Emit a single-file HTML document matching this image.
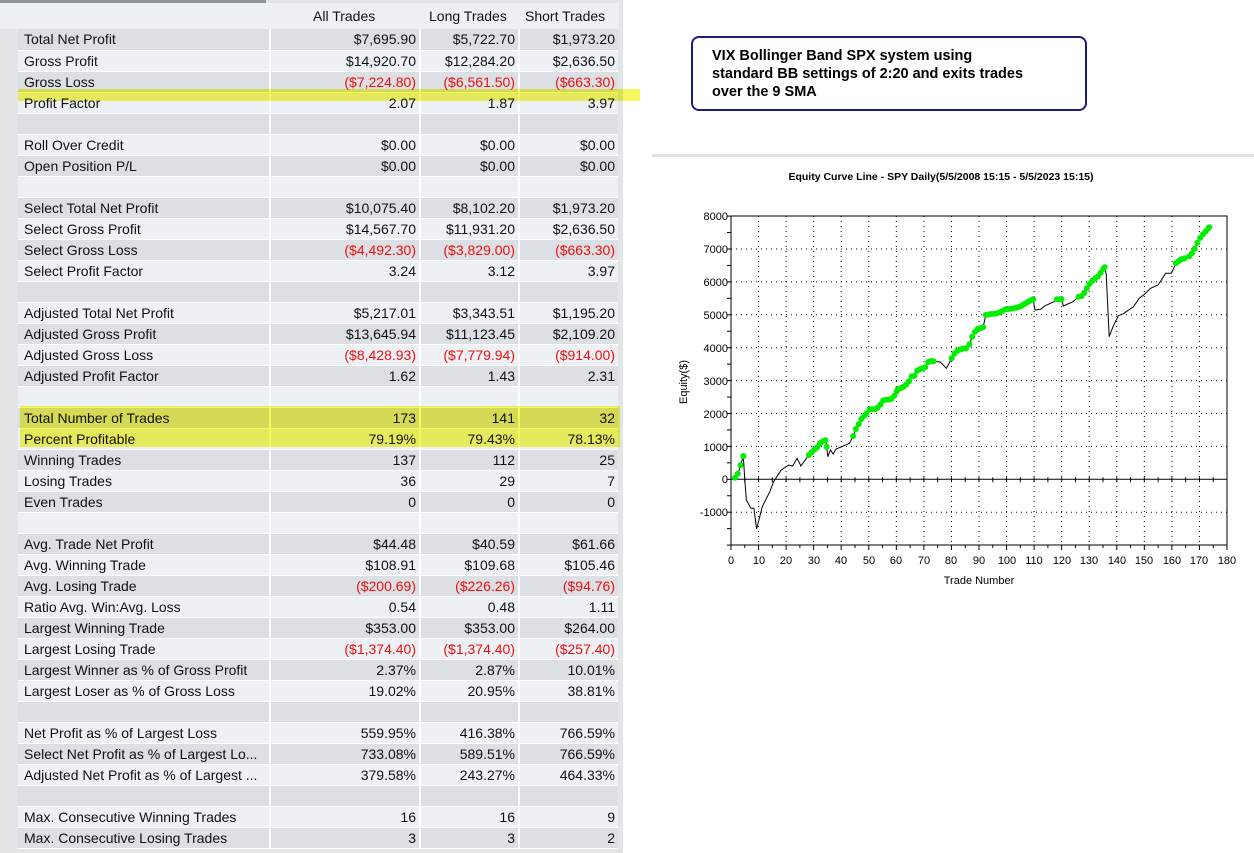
<!DOCTYPE html>
<html><head><meta charset="utf-8"><style>
body{margin:0;width:1254px;height:853px;background:#fff;position:relative;overflow:hidden;font-family:"Liberation Sans",Arial,sans-serif;}
#tbl{position:absolute;left:0;top:0;width:623px;height:853px;background:#e3e6e9;}
#topbar{position:absolute;left:0;top:0;width:266px;height:3px;background:#8c939b;}
#hdr{position:absolute;left:0;top:3px;width:619px;height:26px;background:#edf1f5;}
#hdr span{position:absolute;top:5px;font-size:14px;color:#111;}
table{position:absolute;left:18px;top:29px;border-collapse:collapse;font-size:14px;color:#111;}
td{height:21px;padding:0;box-sizing:border-box;border-bottom:1px solid #fff;line-height:20px;white-space:nowrap;overflow:hidden;}
td.l{width:252px;padding-left:6px;border-right:2px solid #fff;}
td.v{text-align:right;padding-right:3px;border-right:2px solid #fff;}
td.a{width:150px}td.b{width:99px}td.c{width:99px;border-right:none}
tr:nth-child(even) td{background:#edf1f5}
tr:nth-child(odd) td{background:#dcdfe3}
.r{color:#ee1010}
.hl{position:absolute;background:#f6f860;mix-blend-mode:multiply;}
#box{position:absolute;left:691px;top:36px;width:396px;height:75px;border:2px solid #1c1c80;border-radius:8px;box-sizing:border-box;}
#box div{position:absolute;left:19px;top:9px;font-weight:bold;font-size:14.5px;line-height:18px;color:#000;}
#sep{position:absolute;left:652px;top:154px;width:602px;height:3px;background:#e2e2e2;}
</style></head><body>
<div id="tbl"></div>
<div id="topbar"></div>
<div id="hdr"><span style="left:313px">All Trades</span><span style="left:429px">Long Trades</span><span style="left:525px">Short Trades</span></div>
<table>
<tr><td class="l">Total Net Profit</td><td class="v a">$7,695.90</td><td class="v b">$5,722.70</td><td class="v c">$1,973.20</td></tr>
<tr><td class="l">Gross Profit</td><td class="v a">$14,920.70</td><td class="v b">$12,284.20</td><td class="v c">$2,636.50</td></tr>
<tr><td class="l">Gross Loss</td><td class="v a r">($7,224.80)</td><td class="v b r">($6,561.50)</td><td class="v c r">($663.30)</td></tr>
<tr><td class="l">Profit Factor</td><td class="v a">2.07</td><td class="v b">1.87</td><td class="v c">3.97</td></tr>
<tr><td class="l"></td><td class="v a"></td><td class="v b"></td><td class="v c"></td></tr>
<tr><td class="l">Roll Over Credit</td><td class="v a">$0.00</td><td class="v b">$0.00</td><td class="v c">$0.00</td></tr>
<tr><td class="l">Open Position P/L</td><td class="v a">$0.00</td><td class="v b">$0.00</td><td class="v c">$0.00</td></tr>
<tr><td class="l"></td><td class="v a"></td><td class="v b"></td><td class="v c"></td></tr>
<tr><td class="l">Select Total Net Profit</td><td class="v a">$10,075.40</td><td class="v b">$8,102.20</td><td class="v c">$1,973.20</td></tr>
<tr><td class="l">Select Gross Profit</td><td class="v a">$14,567.70</td><td class="v b">$11,931.20</td><td class="v c">$2,636.50</td></tr>
<tr><td class="l">Select Gross Loss</td><td class="v a r">($4,492.30)</td><td class="v b r">($3,829.00)</td><td class="v c r">($663.30)</td></tr>
<tr><td class="l">Select Profit Factor</td><td class="v a">3.24</td><td class="v b">3.12</td><td class="v c">3.97</td></tr>
<tr><td class="l"></td><td class="v a"></td><td class="v b"></td><td class="v c"></td></tr>
<tr><td class="l">Adjusted Total Net Profit</td><td class="v a">$5,217.01</td><td class="v b">$3,343.51</td><td class="v c">$1,195.20</td></tr>
<tr><td class="l">Adjusted Gross Profit</td><td class="v a">$13,645.94</td><td class="v b">$11,123.45</td><td class="v c">$2,109.20</td></tr>
<tr><td class="l">Adjusted Gross Loss</td><td class="v a r">($8,428.93)</td><td class="v b r">($7,779.94)</td><td class="v c r">($914.00)</td></tr>
<tr><td class="l">Adjusted Profit Factor</td><td class="v a">1.62</td><td class="v b">1.43</td><td class="v c">2.31</td></tr>
<tr><td class="l"></td><td class="v a"></td><td class="v b"></td><td class="v c"></td></tr>
<tr><td class="l">Total Number of Trades</td><td class="v a">173</td><td class="v b">141</td><td class="v c">32</td></tr>
<tr><td class="l">Percent Profitable</td><td class="v a">79.19%</td><td class="v b">79.43%</td><td class="v c">78.13%</td></tr>
<tr><td class="l">Winning Trades</td><td class="v a">137</td><td class="v b">112</td><td class="v c">25</td></tr>
<tr><td class="l">Losing Trades</td><td class="v a">36</td><td class="v b">29</td><td class="v c">7</td></tr>
<tr><td class="l">Even Trades</td><td class="v a">0</td><td class="v b">0</td><td class="v c">0</td></tr>
<tr><td class="l"></td><td class="v a"></td><td class="v b"></td><td class="v c"></td></tr>
<tr><td class="l">Avg. Trade Net Profit</td><td class="v a">$44.48</td><td class="v b">$40.59</td><td class="v c">$61.66</td></tr>
<tr><td class="l">Avg. Winning Trade</td><td class="v a">$108.91</td><td class="v b">$109.68</td><td class="v c">$105.46</td></tr>
<tr><td class="l">Avg. Losing Trade</td><td class="v a r">($200.69)</td><td class="v b r">($226.26)</td><td class="v c r">($94.76)</td></tr>
<tr><td class="l">Ratio Avg. Win:Avg. Loss</td><td class="v a">0.54</td><td class="v b">0.48</td><td class="v c">1.11</td></tr>
<tr><td class="l">Largest Winning Trade</td><td class="v a">$353.00</td><td class="v b">$353.00</td><td class="v c">$264.00</td></tr>
<tr><td class="l">Largest Losing Trade</td><td class="v a r">($1,374.40)</td><td class="v b r">($1,374.40)</td><td class="v c r">($257.40)</td></tr>
<tr><td class="l">Largest Winner as % of Gross Profit</td><td class="v a">2.37%</td><td class="v b">2.87%</td><td class="v c">10.01%</td></tr>
<tr><td class="l">Largest Loser as % of Gross Loss</td><td class="v a">19.02%</td><td class="v b">20.95%</td><td class="v c">38.81%</td></tr>
<tr><td class="l"></td><td class="v a"></td><td class="v b"></td><td class="v c"></td></tr>
<tr><td class="l">Net Profit as % of Largest Loss</td><td class="v a">559.95%</td><td class="v b">416.38%</td><td class="v c">766.59%</td></tr>
<tr><td class="l">Select Net Profit as % of Largest Lo...</td><td class="v a">733.08%</td><td class="v b">589.51%</td><td class="v c">766.59%</td></tr>
<tr><td class="l">Adjusted Net Profit as % of Largest ...</td><td class="v a">379.58%</td><td class="v b">243.27%</td><td class="v c">464.33%</td></tr>
<tr><td class="l"></td><td class="v a"></td><td class="v b"></td><td class="v c"></td></tr>
<tr><td class="l">Max. Consecutive Winning Trades</td><td class="v a">16</td><td class="v b">16</td><td class="v c">9</td></tr>
<tr><td class="l">Max. Consecutive Losing Trades</td><td class="v a">3</td><td class="v b">3</td><td class="v c">2</td></tr>
</table>
<div class="hl" style="left:18px;top:89px;width:622px;height:12px"></div>
<div class="hl" style="left:20px;top:406px;width:600px;height:41px"></div>

<div id="box"><div>VIX Bollinger Band SPX system using<br>standard BB settings of 2:20 and exits trades<br>over the 9 SMA</div></div>
<div id="sep"></div>

<svg id="ch" width="1254" height="853" style="position:absolute;left:0;top:0" font-family="Liberation Sans, Arial, sans-serif">
<text x="941" y="180" font-size="10.5" font-weight="bold" text-anchor="middle">Equity Curve Line - SPY Daily(5/5/2008 15:15 - 5/5/2023 15:15)</text>
<g id="grid"></g>
<rect x="731" y="216" width="496" height="329" fill="none" stroke="#000" stroke-width="1"/>
<g font-size="11" text-anchor="end">
<text x="728" y="220">8000</text><text x="728" y="253">7000</text><text x="728" y="286">6000</text><text x="728" y="319">5000</text><text x="728" y="352">4000</text><text x="728" y="385">3000</text><text x="728" y="418">2000</text><text x="728" y="451">1000</text><text x="728" y="483">0</text><text x="728" y="516">-1000</text>
</g>
<g font-size="11" text-anchor="middle">
<text x="731" y="564">0</text><text x="759" y="564">10</text><text x="786" y="564">20</text><text x="814" y="564">30</text><text x="841" y="564">40</text><text x="869" y="564">50</text><text x="896" y="564">60</text><text x="924" y="564">70</text><text x="951" y="564">80</text><text x="979" y="564">90</text><text x="1007" y="564">100</text><text x="1034" y="564">110</text><text x="1062" y="564">120</text><text x="1089" y="564">130</text><text x="1117" y="564">140</text><text x="1144" y="564">150</text><text x="1172" y="564">160</text><text x="1199" y="564">170</text><text x="1227" y="564">180</text>
</g>
<text x="979" y="584" font-size="11" text-anchor="middle">Trade Number</text>
<text transform="translate(687,382) rotate(-90)" font-size="11" text-anchor="middle">Equity($)</text>
<g id="data"></g>
</svg>
<script>
(function(){
var NS="http://www.w3.org/2000/svg";
function el(n,a,p){var e=document.createElementNS(NS,n);for(var k in a)e.setAttribute(k,a[k]);p.appendChild(e);return e;}
var g=document.getElementById('grid');
var X0=731,W=496,Y0=479.3,PY=32.9;
function xt(t){return X0+t*W/180;}
for(var t=10;t<180;t+=10){el('line',{x1:xt(t),x2:xt(t),y1:216,y2:545,stroke:'#000','stroke-dasharray':'1,4','stroke-width':1},g);}
for(var v=-1000;v<=7000;v+=1000){if(v==0)continue;var y=Y0-v/1000*PY;el('line',{x1:731,x2:1227,y1:y,y2:y,stroke:'#000','stroke-dasharray':'1,4','stroke-width':1},g);}
el('line',{x1:731,x2:1227,y1:Y0,y2:Y0,stroke:'#000','stroke-width':1},g);
for(var t=0;t<=180;t+=5){el('line',{x1:xt(t),x2:xt(t),y1:Y0-2,y2:Y0+3,stroke:'#000'},g);el('line',{x1:xt(t),x2:xt(t),y1:545,y2:(t%10==0?550:548),stroke:'#000'},g);}
for(var v=-2000;v<=8000;v+=500){var y=Y0-v/1000*PY;el('line',{x1:727,x2:731,y1:y,y2:y,stroke:'#000'},g);}
var P=[[198,983],[207,968],[212,948],[220,918],[224,990],[228,1050],[240,1075],[248,1075],[255,1137],[270,1070],[290,1025],[300,995],[320,960],[340,945],[350,948],[362,925],[372,948],[380,935],[393,915],[402,905],[415,892],[424,877],[438,870],[443,920],[450,900],[457,912],[465,897],[480,890],[500,880],[510,858],[518,835],[526,820],[535,800],[542,795],[553,778],[570,778],[580,767],[590,750],[610,748],[620,735],[628,718],[640,712],[655,700],[662,680],[672,677],[680,660],[690,656],[700,652],[710,632],[722,634],[740,636],[756,655],[770,625],[780,605],[795,597],[808,595],[817,583],[825,558],[835,538],[853,532],[860,495],[875,492],[890,490],[900,485],[912,478],[935,475],[950,470],[962,462],[972,455],[985,448],[990,480],[1005,478],[1015,468],[1040,455],[1048,448],[1060,448],[1065,468],[1090,455],[1105,440],[1115,438],[1125,418],[1135,400],[1145,388],[1158,378],[1168,360],[1174,352],[1178,372],[1186,560],[1196,530],[1210,497],[1225,490],[1250,470],[1265,445],[1280,432],[1295,415],[1315,405],[1335,370],[1350,370],[1362,340],[1375,328],[1385,325],[1400,317],[1410,300],[1420,275],[1428,260],[1440,245],[1450,232]];
function cx(x){return 660+x/2.64;}function cy(y){return 150+y/3;}
var d=document.getElementById('data');
el('polyline',{points:P.map(function(p){return cx(p[0]).toFixed(1)+','+cy(p[1]).toFixed(1);}).join(' '),fill:'none',stroke:'#000','stroke-width':1},d);
function yAt(x){for(var i=0;i<P.length-1;i++){if(x>=P[i][0]&&x<=P[i+1][0]){var f=(x-P[i][0])/((P[i+1][0]-P[i][0])||1);return P[i][1]+f*(P[i+1][1]-P[i][1]);}}return P[P.length-1][1];}
var R=[[198,220],[393,440],[510,545],[553,625],[628,700],[708,722],[770,808],[817,853],[860,985],[1048,1060],[1105,1174],[1362,1385],[1397,1450]];
R.forEach(function(r){for(var x=r[0];x<=r[1]+0.1;x+=7.27){el('circle',{cx:cx(x).toFixed(1),cy:cy(yAt(x)).toFixed(1),r:3,fill:'#00ee00'},d);}
el('circle',{cx:cx(r[1]).toFixed(1),cy:cy(yAt(r[1])).toFixed(1),r:3,fill:'#00ee00'},d);});
})();
</script>
</body></html>
